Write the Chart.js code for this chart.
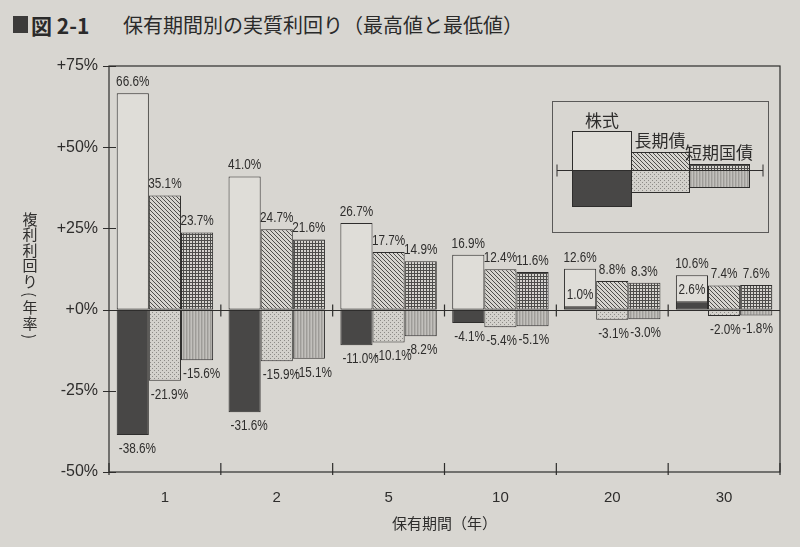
<!DOCTYPE html>
<html>
<head>
<meta charset="utf-8">
<script src="https://cdn.jsdelivr.net/npm/chart.js@4.4.1/dist/chart.umd.min.js"></script>
<style>
  html, body { margin: 0; padding: 0; background: #d8d6d1; }
  #wrap { position: relative; width: 800px; height: 547px; overflow: hidden; }
  #mark { position: absolute; left: 13px; top: 16px; width: 15px; height: 17px; background: #3c3b3a; }
  .ttl { position: absolute; top: 13px; line-height: 24px; font-family: "Noto Sans CJK JP", sans-serif; color: #2a2a2a; white-space: nowrap; }
  #fig { left: 31px; font-size: 21px; font-weight: bold; }
  #name { left: 123px; font-size: 20px; }
  canvas { position: absolute; left: 0; top: 0; }
</style>
</head>
<body>
<div id="wrap">
  <div id="mark"></div>
  <div class="ttl" id="fig">図 2-1</div>
  <div class="ttl" id="name">保有期間別の実質利回り（最高値と最低値）</div>
  <canvas id="chart" width="800" height="547"></canvas>
</div>
<script>
// holding period (years)
const periods = ["1", "2", "5", "10", "20", "30"];
const seriesNames = ["株式", "長期債", "短期国債"];

// real returns, best and worst (% per year)
const stockMax = [66.6, 41.0, 26.7, 16.9, 12.6, 10.6];
const stockMin = [-38.6, -31.6, -11.0, -4.1, 1.0, 2.6];
const bondMax = [35.1, 24.7, 17.7, 12.4, 8.8, 7.4];
const bondMin = [-21.9, -15.9, -10.1, -5.4, -3.1, -2.0];
const billMax = [23.7, 21.6, 14.9, 11.6, 8.3, 7.6];
const billMin = [-15.6, -15.1, -8.2, -5.1, -3.0, -1.8];

const yTicks = [-50, -25, 0, 25, 50, 75];

const INK = "#2e2d2c";
const JP = '"Noto Sans CJK JP", sans-serif';
const NUM = '"Liberation Sans", Arial, sans-serif';

function tile(size, bg, paint) {
    const c = document.createElement("canvas");
    c.width = size; c.height = size;
    const g = c.getContext("2d");
    g.fillStyle = bg;
    g.fillRect(0, 0, size, size);
    paint(g);
    return g.createPattern(c, "repeat");
}

const fills = {
    stockMax: "#dfddd8",
    stockMin: "#484746",
    bondMax: tile(4, "#d6d4cf", g => {
        g.fillStyle = "#4e4d4b";
        for (let i = 0; i < 4; i++) g.fillRect(i, i, 1, 1);
    }),
    bondMin: tile(4, "#d3d1cc", g => {
        g.fillStyle = "#8d8b87";
        g.fillRect(0, 0, 1, 1);
        g.fillRect(2, 2, 1, 1);
    }),
    billMax: tile(3, "#d6d4cf", g => {
        g.fillStyle = "#4e4d4b";
        g.fillRect(0, 0, 3, 1);
        g.fillRect(0, 0, 1, 3);
    }),
    billMin: tile(3, "#b2b0ac", g => {
        g.fillStyle = "#9e9c98";
        g.fillRect(0, 0, 1, 3);
        g.fillStyle = "#c2c0bc";
        g.fillRect(2, 0, 1, 3);
    })
};

function boundaries(chart) {
    const x = chart.scales.x;
    const half = (x.getPixelForValue(1) - x.getPixelForValue(0)) / 2;
    const out = [];
    for (let i = 0; i <= periods.length; i++) out.push(x.getPixelForValue(0) - half + i * half * 2);
    return out;
}

const decorations = {
    id: "decorations",
    afterDatasetsDraw(chart) {
        const ctx = chart.ctx;
        const a = chart.chartArea;
        const y = chart.scales.y;
        const y0 = Math.round(y.getPixelForValue(0)) + 0.5;
        ctx.save();
        ctx.strokeStyle = INK;
        ctx.lineWidth = 1.2;
        // frame
        ctx.strokeRect(a.left, a.top, a.right - a.left, a.bottom - a.top);
        // zero line
        ctx.beginPath();
        ctx.moveTo(a.left, y0); ctx.lineTo(a.right, y0);
        // ticks on zero line and bottom axis
        const bx = boundaries(chart);
        bx.forEach((px, i) => {
            if (i > 0 && i < bx.length - 1) {
                ctx.moveTo(px, y0 - 6); ctx.lineTo(px, y0 + 6);
            }
            ctx.moveTo(px, a.bottom - 9); ctx.lineTo(px, a.bottom + 3);
        });
        // y ticks crossing the axis
        yTicks.forEach(v => {
            const py = Math.round(y.getPixelForValue(v)) + 0.5;
            ctx.moveTo(a.left - 6, py); ctx.lineTo(a.left + 7, py);
        });
        ctx.stroke();

        // value labels
        ctx.fillStyle = INK;
        ctx.font = "14px " + NUM;
        ctx.textBaseline = "middle";
        chart.data.datasets.forEach((ds, di) => {
            const meta = chart.getDatasetMeta(di);
            meta.data.forEach((bar, i) => {
                const v = ds.data[i];
                const txt = v.toFixed(1) + "%";
                const left = bar.x - bar.width / 2;
                ctx.save();
                if (v >= 0) {
                    ctx.translate(bar.x, Math.min(bar.y, bar.base) - 11);
                    ctx.scale(0.84, 1);
                    ctx.textAlign = "center";
                    ctx.fillText(txt, 0, 0);
                } else {
                    ctx.translate(left + 2, Math.max(bar.y, bar.base) + 14);
                    ctx.scale(0.84, 1);
                    ctx.textAlign = "left";
                    ctx.fillText(txt, 0, 0);
                }
                ctx.restore();
            });
        });

        // vertical y-axis title
        const chars = ["複", "利", "利", "回", "り", "(", "年", "率", ")"];
        let cy = 219;
        ctx.font = "15px " + JP;
        ctx.textAlign = "center";
        chars.forEach(ch => {
            const paren = ch === "(" || ch === ")";
            const step = paren ? 11 : 15.5;
            ctx.save();
            ctx.translate(30, cy + (paren ? -2 : 0));
            if (paren) ctx.rotate(Math.PI / 2);
            ctx.fillText(ch, 0, 0);
            ctx.restore();
            cy += step;
        });

        // legend: a small sample of the bars
        const L = a.right - 228, T = a.top + 35;
        ctx.lineWidth = 1;
        ctx.strokeStyle = "#5a5958";
        ctx.strokeRect(L + 0.5, T + 0.5, 216, 131);
        const z = T + 69.5;
        const items = [
            { x: 20, w: 59, up: 39, down: 36, top: fills.stockMax, bottom: fills.stockMin },
            { x: 79, w: 58, up: 18, down: 22, top: fills.bondMax, bottom: fills.bondMin },
            { x: 137, w: 60, up: 6, down: 17, top: fills.billMax, bottom: fills.billMin }
        ];
        ctx.strokeStyle = INK;
        items.forEach(it => {
            ctx.fillStyle = it.top;
            ctx.fillRect(L + it.x, z - it.up, it.w, it.up);
            ctx.strokeRect(L + it.x + 0.5, z - it.up, it.w, it.up);
            ctx.fillStyle = it.bottom;
            ctx.fillRect(L + it.x, z, it.w, it.down);
            ctx.strokeRect(L + it.x + 0.5, z, it.w, it.down);
        });
        ctx.beginPath();
        ctx.moveTo(L + 5, z); ctx.lineTo(L + 211, z);
        ctx.moveTo(L + 5, z - 6); ctx.lineTo(L + 5, z + 6);
        ctx.moveTo(L + 211, z - 6); ctx.lineTo(L + 211, z + 6);
        ctx.stroke();
        ctx.fillStyle = INK;
        ctx.font = "17px " + JP;
        ctx.textAlign = "center";
        ctx.fillText(seriesNames[0], L + 50, T + 20);
        ctx.fillText(seriesNames[1], L + 108, T + 40);
        ctx.fillText(seriesNames[2], L + 167, T + 52);
        ctx.restore();
    }
};

const bar = (data, fill, stack, order) => ({
    data, stack, order,
    backgroundColor: fill,
    borderColor: INK,
    borderWidth: 1,
    borderSkipped: false,
    categoryPercentage: 0.862,
    barPercentage: 1.0
});

new Chart(document.getElementById("chart"), {
    type: "bar",
    data: {
        labels: periods,
        datasets: [
            bar(stockMax, fills.stockMax, "stock", 2),
            bar(stockMin, fills.stockMin, "stock", 1),
            bar(bondMax, fills.bondMax, "bond", 2),
            bar(bondMin, fills.bondMin, "bond", 1),
            bar(billMax, fills.billMax, "bill", 2),
            bar(billMin, fills.billMin, "bill", 1)
        ]
    },
    options: {
        responsive: false,
        animation: false,
        layout: { padding: { left: 0, top: 66, right: 20, bottom: 0 } },
        plugins: { legend: { display: false }, tooltip: { enabled: false } },
        scales: {
            x: {
                grid: { display: false, drawTicks: false },
                border: { display: false },
                ticks: { color: INK, font: { family: NUM, size: 15 }, padding: 17 },
                title: {
                    display: true, text: "保有期間（年）", color: INK,
                    font: { family: JP, size: 15 }, padding: { top: 15, bottom: 15 }
                },
                afterFit: s => { s.height = 75; }
            },
            y: {
                stacked: false,
                min: -50, max: 75,
                grid: { display: false, drawTicks: false },
                border: { display: false },
                ticks: {
                    stepSize: 25, color: INK, padding: 11,
                    font: { family: NUM, size: 16 },
                    callback: v => (v >= 0 ? "+" : "") + v + "%"
                },
                afterFit: s => { s.width = 109; }
            }
        }
    },
    plugins: [decorations]
});
</script>
</body>
</html>
